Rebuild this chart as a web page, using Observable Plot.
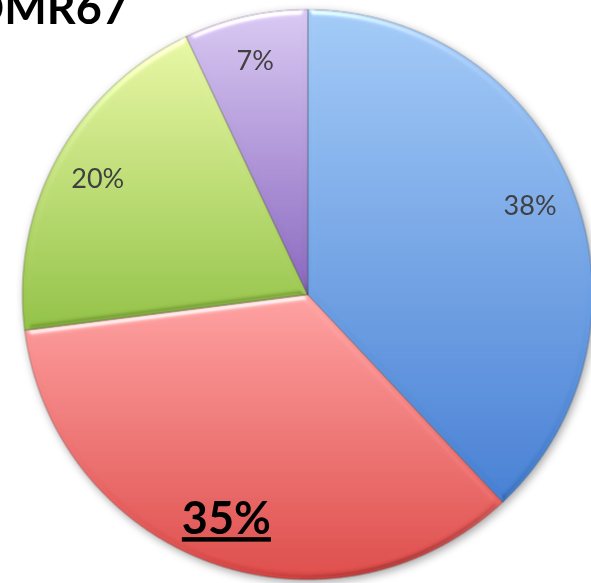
<!DOCTYPE html>
<html>
<head>
<meta charset="utf-8">
<script src="https://cdn.jsdelivr.net/npm/d3@7"></script>
<script src="https://cdn.jsdelivr.net/npm/@observablehq/plot@0.6"></script>
<style>
  html, body { margin: 0; padding: 0; background: #fff; }
  #chart { position: relative; width: 591px; height: 583px; overflow: hidden; }
  #chart svg { position: absolute; left: 0; top: 0; }
  #title {
    position: absolute; right: 463px; top: -15px;
    font: bold 45px Lato, "Open Sans", sans-serif; line-height: 1;
    color: #000; white-space: nowrap;
  }
</style>
</head>
<body>
<div id="chart"><div id="title">DMR67</div></div>
<script>
// Share of each segment, clockwise from 12 o'clock
const values = [38, 35, 20, 7];
// Gradient stops for each segment (light at top, deeper at bottom)
const topColors = ["#a4cbf8", "#ffa2a2", "#e9f8a6", "#d9c9f3"];
const bottomColors = ["#4580d4", "#de4a48", "#92c244", "#8a67bf"];
// Segment whose label is set in bold, underlined type
const emphasis = [false, true, false, false];

const arcs = d3.pie().sort(null).value(d => d)(values);

// Wedge outlines in unit-circle coordinates (y pointing up)
const wedges = arcs.flatMap((a, i) => {
  const n = Math.max(4, Math.ceil((a.endAngle - a.startAngle) / 0.005));
  const pts = [{i, x: 0, y: 0}];
  for (let k = 0; k <= n; ++k) {
    const t = a.startAngle + (a.endAngle - a.startAngle) * k / n;
    pts.push({i, x: Math.sin(t), y: Math.cos(t)});
  }
  return pts;
});

const labelRadius = 0.84;
const labels = arcs.map((a, i) => {
  const m = (a.startAngle + a.endAngle) / 2;
  return {i, x: labelRadius * Math.sin(m), y: labelRadius * Math.cos(m), text: `${values[i]}%`, strong: emphasis[i]};
});

const svg = Plot.plot({
  width: 591,
  height: 583,
  margin: 0,
  x: {domain: [-1, 1], range: [22, 592], axis: null},
  y: {domain: [-1, 1], range: [579, 9], axis: null},
  color: {type: "identity"},
  marks: [
    Plot.line(wedges, {
      x: "x", y: "y", z: "i",
      fill: d => `url(#wedge${d.i})`,
      stroke: "#000", strokeOpacity: 0.3, strokeWidth: 1,
      curve: "linear-closed",
      ariaDescription: "wedges"
    }),
    Plot.text(labels.filter(d => !d.strong), {
      x: "x", y: "y", text: "text",
      fill: "#404040", fontSize: 27,
      fontFamily: "Lato, 'Open Sans', sans-serif"
    }),
    Plot.text(labels.filter(d => d.strong), {
      x: "x", y: "y", text: "text",
      fill: "#000", fontSize: 45, fontWeight: "bold",
      fontFamily: "Lato, 'Open Sans', sans-serif",
      ariaDescription: "emphasis"
    })
  ]
});

// Gradients and filters used by the wedges
const defs = d3.select(svg).insert("defs", ":first-child");
values.forEach((_, i) => {
  const g = defs.append("linearGradient")
    .attr("id", `wedge${i}`)
    .attr("x1", 0).attr("y1", 0).attr("x2", 0).attr("y2", 1);
  g.append("stop").attr("offset", "0%").attr("stop-color", topColors[i]);
  g.append("stop").attr("offset", "100%").attr("stop-color", bottomColors[i]);
});
defs.append("filter").attr("id", "shadow")
  .attr("x", "-10%").attr("y", "-10%").attr("width", "120%").attr("height", "120%")
  .html(`<feDropShadow dx="2" dy="3" stdDeviation="4" flood-color="#000" flood-opacity="0.35"/>`);
// Soft bevel: light rim on edges facing up, dark rim on edges facing down
defs.append("filter").attr("id", "bevel")
  .attr("x", "-5%").attr("y", "-5%").attr("width", "110%").attr("height", "110%")
  .html(`
    <feGaussianBlur in="SourceAlpha" stdDeviation="3" result="blur"/>
    <feSpecularLighting in="blur" surfaceScale="3" specularConstant="0.9" specularExponent="40" lighting-color="#ffffff" result="hi">
      <feDistantLight azimuth="260" elevation="40"/>
    </feSpecularLighting>
    <feComposite in="hi" in2="SourceAlpha" operator="in" result="hiIn"/>
    <feSpecularLighting in="blur" surfaceScale="3" specularConstant="0.9" specularExponent="40" lighting-color="#ffffff" result="lo">
      <feDistantLight azimuth="70" elevation="40"/>
    </feSpecularLighting>
    <feComposite in="lo" in2="SourceAlpha" operator="in" result="loIn"/>
    <feFlood flood-color="#000" flood-opacity="0.45" result="ink"/>
    <feComposite in="ink" in2="loIn" operator="in" result="dark"/>
    <feComposite in="SourceGraphic" in2="hiIn" operator="arithmetic" k1="0" k2="1" k3="0.6" k4="0" result="lit"/>
    <feComposite in="dark" in2="lit" operator="over"/>`);

const wedgeGroup = d3.select(svg).select("g[aria-description=wedges]");
wedgeGroup.attr("filter", "url(#shadow)");
wedgeGroup.selectAll("path").attr("filter", "url(#bevel)");
d3.select(svg).selectAll("g[aria-description=emphasis] text").style("text-decoration", "underline");

document.getElementById("chart").insertBefore(svg, document.getElementById("title"));
</script>
</body>
</html>
